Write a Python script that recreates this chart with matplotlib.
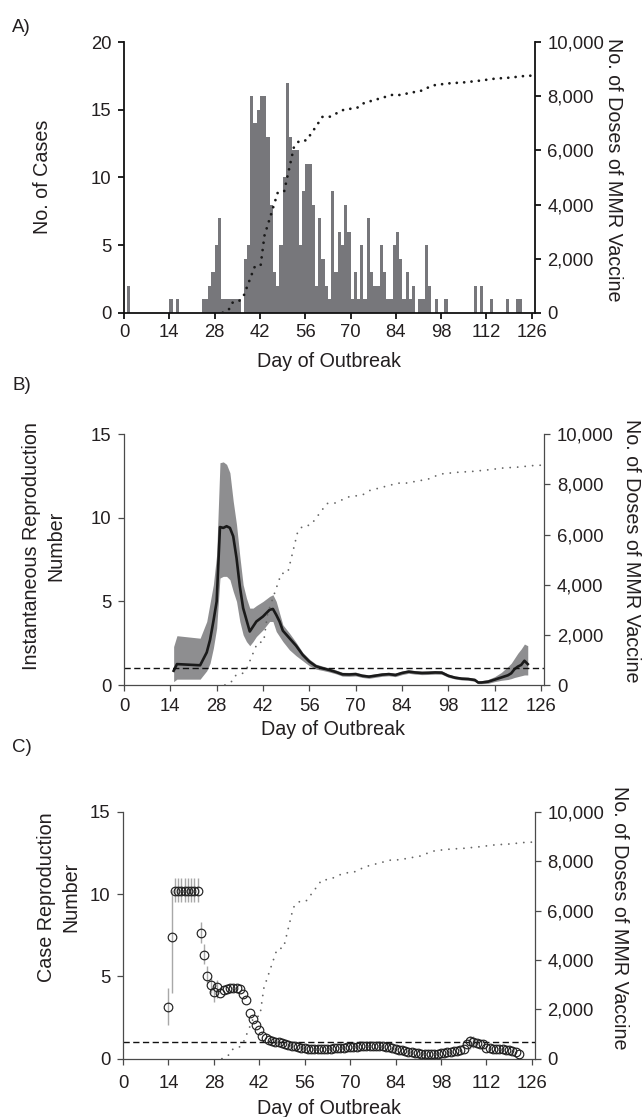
import matplotlib
matplotlib.use("Agg")
import matplotlib.pyplot as plt
import numpy as np

plt.rcParams['font.family'] = ['Liberation Sans', 'DejaVu Sans']

# ---------------- data ----------------
# Panel A: daily case counts (day of outbreak, number of cases)
case_days = [1, 14, 16, 24, 25, 26, 27, 28, 29, 30, 31, 32, 33, 34, 35,
             37, 38, 39, 40, 41, 42, 43, 44, 45, 46, 47, 48, 49, 50, 51, 52, 53,
             54, 55, 56, 57, 58, 59, 60, 61, 62, 63, 64, 65, 66, 67, 68, 69,
             70, 71, 72, 73, 74, 75, 76, 77, 78, 79, 80, 81, 82, 83, 84, 85,
             86, 87, 88, 89, 91, 92, 93, 94, 96, 99, 108, 110, 113, 118, 121, 122]
case_counts = [2, 1, 1, 1, 1, 2, 3, 5, 7, 1, 1, 1, 1, 1, 1,
               4, 5, 16, 14, 15, 16, 16, 13, 8, 3, 2, 5, 10, 17, 13, 12, 12,
               5, 9, 11, 11, 8, 2, 7, 4, 2, 1, 9, 3, 6, 5, 8, 6,
               1, 3, 1, 5, 1, 7, 3, 2, 2, 5, 3, 1, 1, 5, 6, 4,
               1, 3, 1, 2, 1, 1, 5, 2, 1, 1, 2, 2, 1, 1, 1, 1]

# Cumulative doses of MMR vaccine (same curve in all panels)
vacc_days = [30.5, 32.4, 33.5, 35.5, 37.0, 40.3, 42.2, 43.4, 47.5, 49.5, 52.5,
             54.1, 56.4, 58.9, 61.3, 63.6, 67.8, 72.1, 74.2, 82.8, 85.2, 91.9,
             94.1, 96.2, 100.6, 105.3, 110.0, 114.6, 119.2, 123.7, 126.0]
vacc_doses = [0, 120, 370, 420, 630, 1680, 1730, 2850, 4440, 4490, 6120,
              6350, 6375, 6810, 7240, 7250, 7500, 7583, 7756, 8052, 8052, 8212,
              8335, 8422, 8483, 8520, 8582, 8656, 8693, 8754, 8767]

# Panel B: instantaneous reproduction number (mean and 95% band)
rt_days = [15, 16, 23, 25, 26, 27, 28, 29, 30, 31, 32, 33, 34, 35, 36, 37, 38,
           39, 40, 42, 44, 45, 46, 47, 48, 50, 52, 54, 56, 58, 60, 62, 64, 66,
           68, 70, 72, 74, 76, 78, 80, 82, 84, 86, 88, 90, 92, 94, 96, 98, 100,
           102, 104, 106, 107, 108, 110, 112, 114, 116, 117, 118, 119, 120, 121, 122]
rt_mean = [0.85, 1.25, 1.18, 1.95, 2.7, 3.8, 5.0, 9.45, 9.4, 9.5, 9.4, 8.9, 7.6,
           5.9, 4.6, 3.9, 3.2, 3.5, 3.8, 4.1, 4.5, 4.55, 4.2, 3.8, 3.25, 2.8,
           2.35, 1.8, 1.4, 1.12, 1.0, 0.9, 0.78, 0.64, 0.63, 0.65, 0.55, 0.5,
           0.56, 0.62, 0.65, 0.6, 0.72, 0.8, 0.75, 0.72, 0.73, 0.75, 0.74, 0.55,
           0.44, 0.38, 0.36, 0.3, 0.15, 0.15, 0.2, 0.32, 0.45, 0.58, 0.7, 0.95,
           1.1, 1.2, 1.45, 1.25]
rt_low = [0.2, 0.35, 0.35, 0.85, 1.3, 2.2, 3.4, 6.4, 6.5, 6.5, 6.3, 5.6, 5.0,
          3.8, 3.0, 2.6, 2.35, 2.6, 2.9, 3.3, 3.8, 3.8, 3.2, 2.9, 2.6, 2.1,
          1.75, 1.45, 1.15, 0.95, 0.87, 0.78, 0.67, 0.53, 0.52, 0.54, 0.45,
          0.4, 0.46, 0.52, 0.55, 0.5, 0.62, 0.7, 0.65, 0.62, 0.63, 0.65, 0.64,
          0.46, 0.36, 0.3, 0.28, 0.22, 0.08, 0.08, 0.1, 0.2, 0.28, 0.33, 0.38,
          0.45, 0.5, 0.55, 0.6, 0.6]
rt_high = [2.3, 2.95, 2.8, 3.8, 4.9, 6.0, 7.8, 13.3, 13.35, 13.2, 12.7, 11.0,
           9.6, 7.7, 6.0, 5.2, 4.6, 4.6, 4.75, 5.0, 5.3, 5.4, 5.0, 4.3, 3.6,
           3.1, 2.55, 1.95, 1.55, 1.25, 1.13, 1.02, 0.9, 0.76, 0.75, 0.77,
           0.66, 0.61, 0.67, 0.73, 0.76, 0.71, 0.83, 0.91, 0.86, 0.83, 0.84,
           0.86, 0.85, 0.65, 0.54, 0.48, 0.46, 0.4, 0.25, 0.26, 0.33, 0.5, 0.75,
           1.1, 1.3, 1.6, 1.9, 2.15, 2.45, 2.35]

# Panel C: case reproduction number by day
rc_days = list(range(14, 123))
rc_vals = [3.15, 7.4, 10.2, 10.2, 10.2, 10.2, 10.2, 10.2, 10.2, 10.2,
           7.65, 6.3, 5.05, 4.45, 4.05, 4.35, 3.97, 4.15, 4.25, 4.3, 4.3, 4.3,
           4.25, 3.9, 3.55, 2.75, 2.4, 2.05, 1.72, 1.38, 1.24, 1.15, 1.09,
           1.03, 0.99, 0.94, 0.9, 0.85, 0.8, 0.76, 0.72, 0.68, 0.64, 0.61,
           0.58, 0.57, 0.56, 0.56, 0.57, 0.58, 0.6, 0.62, 0.64, 0.66, 0.68,
           0.7, 0.72, 0.73, 0.74, 0.75, 0.76, 0.77, 0.77, 0.77, 0.77, 0.76,
           0.75, 0.73, 0.7, 0.65, 0.6, 0.55, 0.5, 0.46, 0.42, 0.38, 0.35,
           0.33, 0.31, 0.29, 0.28, 0.28, 0.29, 0.31, 0.33, 0.36, 0.4, 0.43,
           0.46, 0.48, 0.5, 0.56, 0.9, 1.05, 1.0, 0.95, 0.9, 0.88, 0.65, 0.62,
           0.61, 0.6, 0.6, 0.58, 0.55, 0.5, 0.45, 0.38, 0.28]
# visible uncertainty intervals in panel C
rc_err_days = [14, 15, 16, 17, 18, 19, 20, 21, 22, 23, 24, 25, 26, 27, 28, 29, 107, 108]
rc_err_low = [2.05, 4.0, 9.5, 9.5, 9.5, 9.5, 9.5, 9.5, 9.5, 9.5, 7.0, 5.75,
              4.6, 4.0, 3.45, 3.7, 0.6, 0.65]
rc_err_high = [4.3, 10.25, 10.95, 10.95, 10.95, 10.95, 10.95, 10.95, 10.95,
               10.95, 8.3, 6.95, 5.6, 4.9, 4.6, 4.8, 1.4, 1.35]

x_ticks = list(range(0, 127, 14))
dose_ticks = list(range(0, 10001, 2000))

# ---------------- figure ----------------
W, H = 643, 1117
fig = plt.figure(figsize=(W / 100, H / 100), dpi=100)

def ax_rect(left, right, top, bottom):
    return [left / W, 1 - bottom / H, (right - left) / W, (bottom - top) / H]

TICK_FS = 13.3
LAB_FS = 14.2
TXT = '#231f20'

def style_axes(ax, ax2, spine_color, spine_w, xpad):
    for s in ['top']:
        ax.spines[s].set_visible(False)
        ax2.spines[s].set_visible(False)
    for s in ['left', 'bottom']:
        ax.spines[s].set_color(spine_color)
        ax.spines[s].set_linewidth(spine_w)
    ax2.spines['right'].set_color(spine_color)
    ax2.spines['right'].set_linewidth(spine_w)
    for s in ['left', 'bottom']:
        ax2.spines[s].set_visible(False)
    ax.spines['right'].set_visible(False)
    ax.set_xlim(0, 127)
    ax.set_xticks(x_ticks)
    ax.tick_params(axis='x', direction='out', length=4, width=spine_w,
                   color=spine_color, labelsize=TICK_FS, pad=xpad, labelcolor=TXT)
    ax.tick_params(axis='y', direction='out', length=4, width=spine_w,
                   color=spine_color, labelsize=TICK_FS, pad=5, labelcolor=TXT)
    ax2.set_ylim(0, 10000)
    ax2.set_yticks(dose_ticks)
    ax2.set_yticklabels([f"{v:,}" for v in dose_ticks])
    ax2.tick_params(axis='y', direction='out', length=4, width=spine_w,
                    color=spine_color, labelsize=TICK_FS, pad=5, labelcolor=TXT)

def ftext(xp, yp, s, **kw):
    fig.text(xp / W, 1 - yp / H, s, color=TXT, **kw)

# ---------- Panel A ----------
axA = fig.add_axes(ax_rect(124, 535, 42.3, 312.7))
axA2 = axA.twinx()
axA.bar(case_days, case_counts, width=1.0, align='edge', color='#77777b',
        edgecolor='none', linewidth=0)
axA.set_ylim(0, 20)
axA.set_yticks([0, 5, 10, 15, 20])
axA2.plot(vacc_days, vacc_doses, color='#1a1a1a', lw=2.0,
          linestyle=(0, (0.01, 2.65)), dash_capstyle='round')
style_axes(axA, axA2, '#111111', 1.3, 4.0)

ftext(12, 32, 'A)', fontsize=13.5, va='baseline', ha='left')
ftext(42.5, 177, 'No. of Cases', fontsize=LAB_FS, rotation=90, ha='center', va='center')
ftext(329, 367, 'Day of Outbreak', fontsize=LAB_FS, ha='center', va='baseline')
ftext(613, 170, 'No. of Doses of MMR Vaccine', fontsize=LAB_FS, rotation=-90,
      ha='center', va='center')

# ---------- Panel B ----------
axB = fig.add_axes(ax_rect(124, 544.3, 434.3, 685))
axB2 = axB.twinx()
axB.fill_between(rt_days, rt_low, rt_high, color='#8e8e90', linewidth=0)
axB.plot(rt_days, rt_mean, color='#1a1a1a', lw=1.9)
axB.axhline(1, color='#111111', lw=1.0, linestyle=(0, (4.5, 2.5)))
axB.set_ylim(0, 15)
axB.set_yticks([0, 5, 10, 15])
axB2.plot(vacc_days, vacc_doses, color='#666666', lw=1.35,
          linestyle=(0, (0.01, 4.0)), dash_capstyle='round')
style_axes(axB, axB2, '#4a4a4a', 0.9, 5.5)

ftext(12, 390, 'B)', fontsize=13.5, va='baseline', ha='left')
ftext(44, 546, 'Instantaneous Reproduction\nNumber', fontsize=LAB_FS, rotation=90,
      ha='center', va='center', multialignment='center', linespacing=1.35)
ftext(333, 735, 'Day of Outbreak', fontsize=LAB_FS, ha='center', va='baseline')
ftext(632, 551, 'No. of Doses of MMR Vaccine', fontsize=LAB_FS, rotation=-90,
      ha='center', va='center')

# ---------- Panel C ----------
axC = fig.add_axes(ax_rect(123, 535, 811.7, 1058.7))
axC2 = axC.twinx()
axC.vlines(rc_err_days, rc_err_low, rc_err_high, color='#a8a8a8', lw=1.0, zorder=2)
axC.plot(rc_days, rc_vals, linestyle='none', marker='o', ms=6.2, mfc='none',
         mec='#222222', mew=0.85, zorder=3)
axC.axhline(1, color='#111111', lw=1.0, linestyle=(0, (4.5, 2.5)), zorder=1)
axC.set_ylim(0, 15)
axC.set_yticks([0, 5, 10, 15])
axC2.plot(vacc_days, vacc_doses, color='#666666', lw=1.35,
          linestyle=(0, (0.01, 4.0)), dash_capstyle='round')
style_axes(axC, axC2, '#4a4a4a', 0.9, 7.5)
axC.set_zorder(axC2.get_zorder() + 1)
axC.patch.set_visible(False)

ftext(12, 752, 'C)', fontsize=13.5, va='baseline', ha='left')
ftext(58.5, 897, 'Case Reproduction\nNumber', fontsize=LAB_FS, rotation=90,
      ha='center', va='center', multialignment='center', linespacing=1.35)
ftext(329, 1114, 'Day of Outbreak', fontsize=LAB_FS, ha='center', va='baseline')
ftext(620, 918, 'No. of Doses of MMR Vaccine', fontsize=LAB_FS, rotation=-90,
      ha='center', va='center')

fig.savefig('out.png', dpi=100)
